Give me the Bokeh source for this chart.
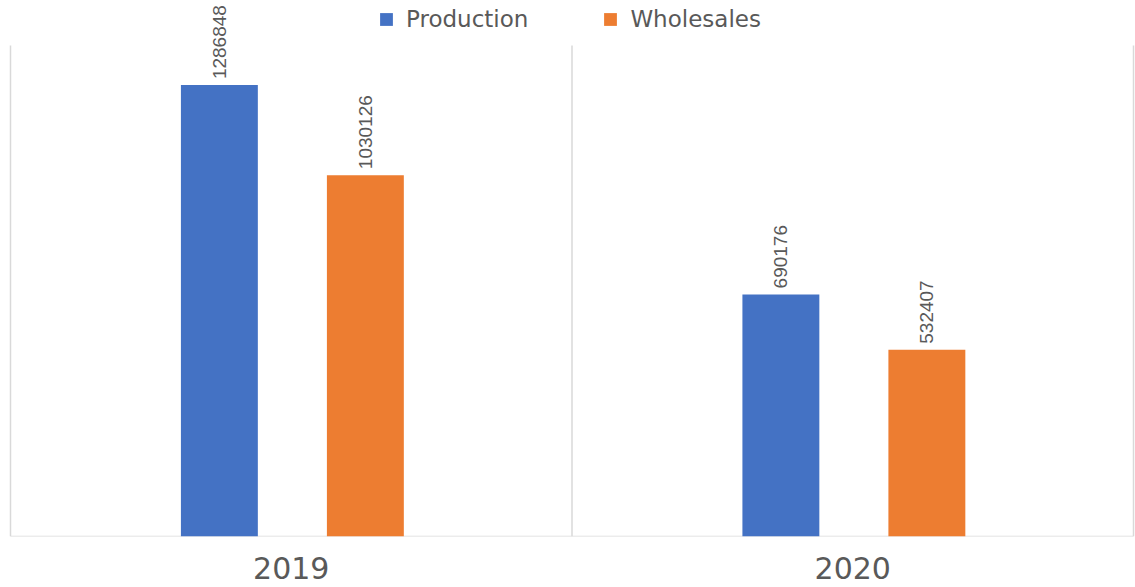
import math
from bokeh.plotting import figure
from bokeh.models import ColumnDataSource, LabelSet, FixedTicker, Legend, LegendItem, Range1d
from bokeh.core.properties import value
from bokeh.transform import dodge
from bokeh.embed import file_html
from bokeh.resources import INLINE

years = ["2019", "2020"]
production = [1286848, 690176]
wholesales = [1030126, 532407]

BLUE = "#4472C4"
ORANGE = "#ED7D31"
GRAY = "#595959"
LINE = "#d9d9d9"

Y_TOP_GRID = 1400000   # top of the separator lines
Y_MAX = 1528000        # extra room above for the legend

n = len(years)
xpos = [i + 0.5 for i in range(n)]
src = ColumnDataSource(dict(
    x=xpos,
    production=production,
    wholesales=wholesales,
    plab=[str(v) for v in production],
    wlab=[str(v) for v in wholesales],
))
bounds = list(range(n + 1))
sep = ColumnDataSource(dict(x=bounds, y0=[0] * len(bounds), y1=[Y_TOP_GRID] * len(bounds)))

unit = 1123 / n
p = figure(width=1135, height=587, output_backend="svg", toolbar_location=None,
           x_range=Range1d(-10 / unit, n + 2 / unit), y_range=Range1d(0, Y_MAX),
           min_border_left=0, min_border_right=0, min_border_top=0, min_border_bottom=51)
p.outline_line_color = None
p.background_fill_color = "white"
p.border_fill_color = "white"
p.xgrid.visible = False
p.ygrid.visible = False
p.yaxis.visible = False

# separators and baseline
p.segment(x0="x", y0="y0", x1="x", y1="y1", source=sep, line_color=LINE, line_width=1.5)
p.segment(x0=[bounds[0]], y0=[0], x1=[bounds[-1]], y1=[0], line_color=LINE, line_width=1.5)

bw = 0.137
r1 = p.vbar(x=dodge("x", -0.128), top="production", width=bw, source=src, fill_color=BLUE, line_color=None)
r2 = p.vbar(x=dodge("x", 0.132), top="wholesales", width=bw, source=src, fill_color=ORANGE, line_color=None)

for col, lab, off in (("production", "plab", -0.128), ("wholesales", "wlab", 0.132)):
    ls = LabelSet(x=dodge("x", off), y=col, text=lab, source=src, angle=math.pi / 2,
                  text_align="left", text_baseline="middle", y_offset=6,
                  text_font=value("Liberation Sans"), text_font_size="19px", text_color=GRAY)
    p.add_layout(ls)

p.xaxis.ticker = FixedTicker(ticks=xpos)
p.xaxis.major_label_overrides = {x: y for x, y in zip(xpos, years)}
p.xaxis.axis_line_color = None
p.xaxis.major_tick_line_color = None
p.xaxis.minor_tick_line_color = None
p.xaxis.major_tick_out = 0
p.xaxis.major_tick_in = 0
p.xaxis.major_label_standoff = 20
p.xaxis.major_label_text_font = "DejaVu Sans"
p.xaxis.major_label_text_font_size = "30px"
p.xaxis.major_label_text_color = GRAY

legend = Legend(items=[LegendItem(label="Production", renderers=[r1]),
                       LegendItem(label="Wholesales", renderers=[r2])],
                orientation="horizontal", location=(378, 504),
                border_line_color=None, background_fill_alpha=0,
                padding=0, margin=0, spacing=74, label_standoff=12,
                glyph_width=16, glyph_height=16,
                label_text_font="DejaVu Sans", label_text_font_size="23px",
                label_text_color=GRAY)
p.add_layout(legend)

open("out.html", "w").write(file_html(p, INLINE))
